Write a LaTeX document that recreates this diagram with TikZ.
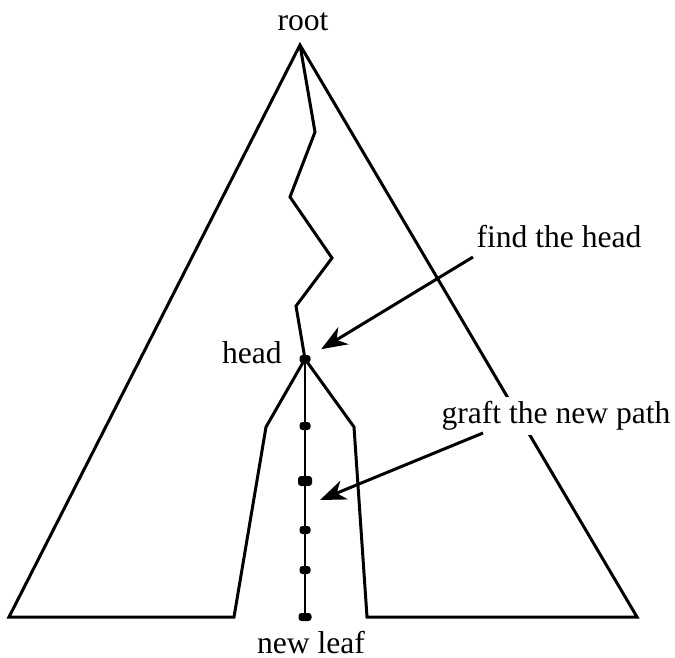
\documentclass[tikz,border=0pt]{standalone}
\usepackage{fontspec}
\setmainfont{Liberation Serif}
\usetikzlibrary{positioning, arrows.meta}

\begin{document}
\begin{tikzpicture}[
  x=0.5pt, y=-0.5pt,
  font=\fontsize{15.8}{19}\selectfont,
  outline/.style={line width=1.5pt, line join=miter},
  graftline/.style={line width=1.2pt},
  knot/.style={fill, rounded corners=1.5pt, minimum width=5.5pt, minimum height=4pt, inner sep=0pt},
  bigknot/.style={knot, minimum width=7pt, minimum height=5pt},
  tag/.style={inner sep=0pt},
  callout/.style={fill=white, inner xsep=1pt, inner ysep=2pt},
  pointer/.style={-{Stealth[length=13pt, width=10pt, inset=4pt]}, line width=1.5pt}
]
\useasboundingbox (0,0) rectangle (675,658);
% tree outline
\coordinate (apex) at (300,45);
\coordinate (leftfoot) at (9,617);
\coordinate (leftgap) at (234,617);
\coordinate (leftbend) at (266,427);
\coordinate (rightbend) at (354,427);
\coordinate (rightgap) at (367,617);
\coordinate (rightfoot) at (637,617);
% search path down to the head
\coordinate (z1) at (315,132);
\coordinate (z2) at (290,197);
\coordinate (z3) at (332,258);
\coordinate (z4) at (296,306);
\node[knot] (head) at (305,359) {};
\node[knot] (k1) at (305,426) {};
\node[bigknot] (k2) at (305,481) {};
\node[knot] (k3) at (305,530) {};
\node[knot] (k4) at (305,570) {};
\node[knot, minimum width=6.5pt] (leaf) at (305,617) {};
\draw[outline] (apex) -- (leftfoot) -- (leftgap) -- (leftbend) -- (head.center)
  -- (rightbend) -- (rightgap) -- (rightfoot) -- cycle;
\draw[outline] (apex) -- (z1) -- (z2) -- (z3) -- (z4) -- (head.center);
\draw[graftline] (head.center) -- (leaf.center);
% labels
\node[tag, above=7pt of apex, xshift=1.5pt] (rootlbl) {root};
\node[tag, left=8.5pt of head, yshift=3pt] (headlbl) {head};
\node[tag, below=4.5pt of leaf, xshift=3pt] (leaflbl) {new leaf};
\node[callout] (findlbl) at (559,237) {find the head};
\node[callout] (graftlbl) at (556,416) {graft the new path};
% arrows
\coordinate (findtail) at (473,257);
\coordinate (grafttail) at (483,433);
\coordinate (graftaim) at (320,500);
\draw[pointer, shorten >=6pt] (findtail) -- (head);
\draw[pointer] (grafttail) -- (graftaim);
\end{tikzpicture}
\end{document}
